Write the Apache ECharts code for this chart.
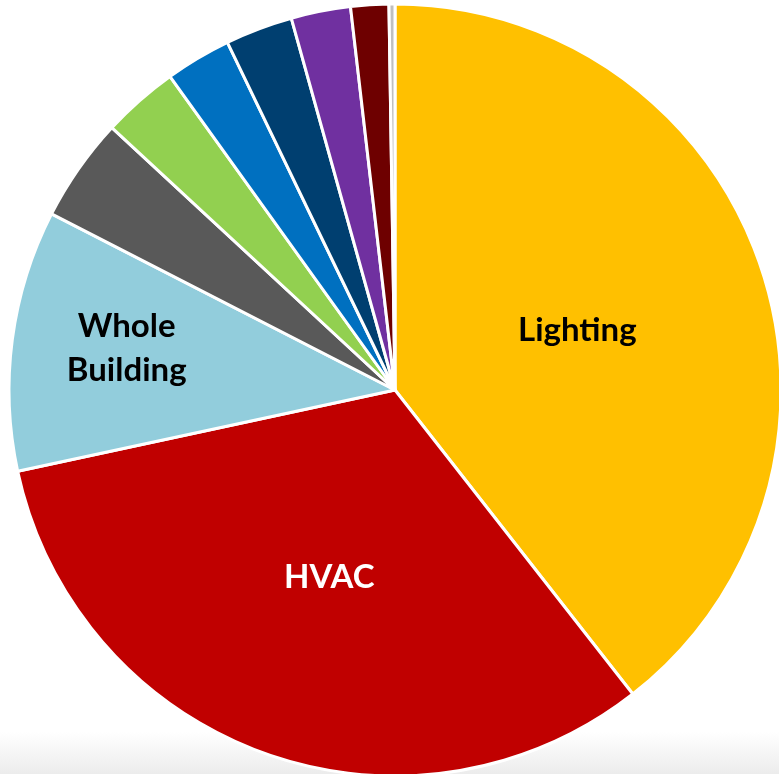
<!DOCTYPE html>
<html>
<head>
<meta charset="utf-8">
<script src="https://cdn.jsdelivr.net/npm/echarts@6/dist/echarts.min.js"></script>
<style>
  html, body { margin: 0; padding: 0; }
  body { width: 779px; height: 774px; background: linear-gradient(to bottom, #ffffff 0px, #ffffff 732px, #ececec 774px); }
  #chart { width: 779px; height: 774px; }
</style>
</head>
<body>
<div id="chart"></div>
<script>
// Share of savings by end use (percent), read clockwise from 12 o'clock
const categories = ['Lighting', 'HVAC', 'Whole Building', 'Other 1', 'Other 2', 'Other 3', 'Other 4', 'Other 5', 'Other 6', 'Other 7'];
const values = [39.44, 32.19, 10.92, 4.35, 3.20, 2.76, 2.82, 2.49, 1.59, 0.25];
const colors = ['#FFC000', '#C00000', '#92CDDC', '#595959', '#92D050', '#0070C0', '#003F70', '#7030A0', '#6E0000', '#BFBFBF'];
const labelText = ['Lighting', 'HVAC', 'Whole\nBuilding', '', '', '', '', '', '', ''];
const labelColors = ['#000000', '#FFFFFF', '#000000'];

const chart = echarts.init(document.getElementById('chart'), null, { renderer: 'canvas' });

const data = categories.map((name, i) => {
  const item = {
    name: name,
    value: values[i],
    itemStyle: { color: colors[i] },
    label: { show: labelText[i] !== '', formatter: labelText[i] }
  };
  if (i < 3) item.label.color = labelColors[i];
  if (i === 0) item.label.offset = [-3, 4];
  if (i === 1) item.label.offset = [1, 3];
  if (i === 2) item.label.offset = [-74, -16];
  return item;
});

chart.setOption({
  backgroundColor: 'transparent',
  animation: false,
  series: [{
    type: 'pie',
    center: [395, 390],
    radius: [0, 386],
    startAngle: 90,
    clockwise: true,
    avoidLabelOverlap: false,
    emphasis: { disabled: true },
    itemStyle: { borderColor: '#ffffff', borderWidth: 3 },
    label: {
      position: 'inside',
      fontFamily: 'Lato',
      fontWeight: 'bold',
      fontSize: 33,
      lineHeight: 44,
      align: 'center'
    },
    labelLine: { show: false },
    data: data
  }]
});
</script>
</body>
</html>
